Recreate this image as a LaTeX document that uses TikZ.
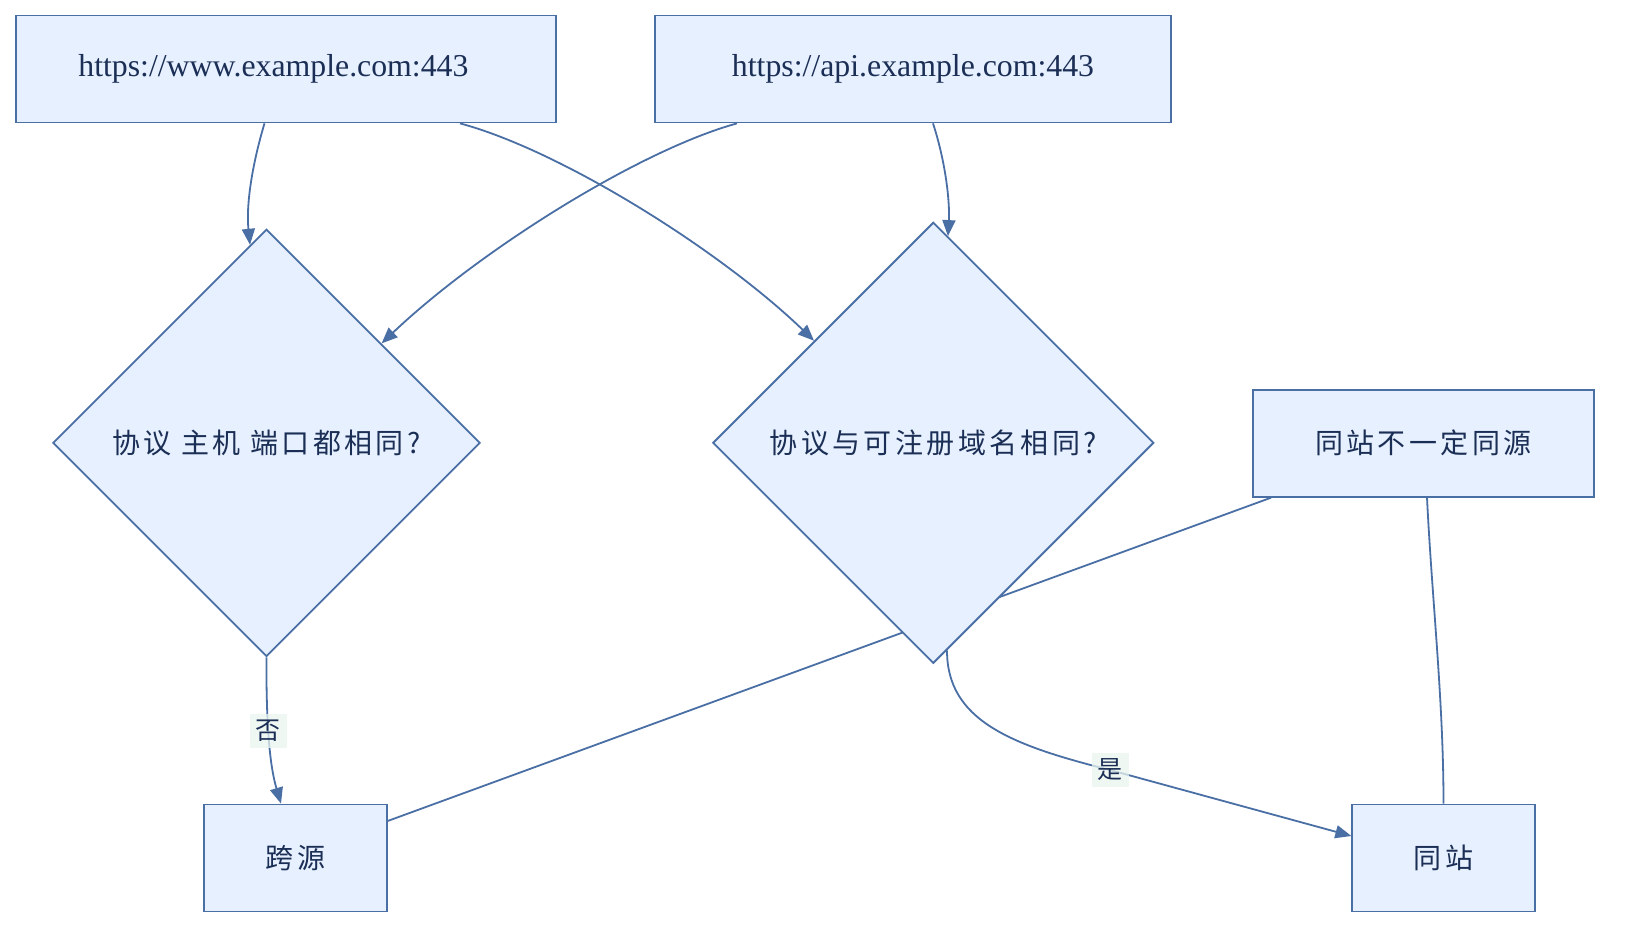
\documentclass[tikz,border=0pt]{standalone}
\usepackage{fontspec}
\setmainfont{Liberation Serif}
\newfontfamily\cjk[LetterSpace=12]{Noto Sans CJK SC}
\usetikzlibrary{shapes.geometric,arrows.meta,calc}
\definecolor{nfill}{HTML}{E6F0FE}
\definecolor{nline}{HTML}{4A6FA5}
\definecolor{ntext}{HTML}{1B2E55}
\definecolor{lblbg}{HTML}{EAF5EF}
\begin{document}
\begin{tikzpicture}[x=1pt,y=-1pt,
  box/.style={draw=nline, line width=1.8pt, fill=nfill, text=ntext, inner sep=0pt, minimum height=107pt},
  dec/.style={diamond, aspect=1, draw=nline, line width=1.8pt, fill=nfill, text=ntext, inner sep=0pt},
  latin/.style={font=\fontsize{31.8}{38}\selectfont},
  han/.style={font=\cjk\fontsize{28}{34}\selectfont},
  conn/.style={draw=nline, line width=1.8pt},
  arr/.style={conn, -{Triangle[length=16pt,width=13pt]}},
  lbl/.style={fill=lblbg, fill opacity=0.75, text opacity=1, text=ntext, font=\cjk\fontsize{25}{30}\selectfont, inner sep=6pt}]
\useasboundingbox (0,0) rectangle (1626,936);
\fill[white] (0,0) rectangle (1626,936);

\node[box, latin, minimum width=540pt] (www) at (285.8,69) {https://www.example.com:443\hspace*{24.8pt}};
\node[box, latin, minimum width=515.4pt] (api) at (913,69) {https://api.example.com:443};
\node[box, han, minimum width=341pt] (note) at (1423.3,443.3) {同站不一定同源};
\node[box, han, minimum width=182.5pt] (ky) at (295.5,858) {跨源};
\node[box, han, minimum width=182.5pt] (tz) at (1443.5,858) {同站};
\node[dec, han, minimum width=427.2pt, minimum height=427.2pt] (d1) at (266.5,442.8) {协议 主机 端口都相同?};

% line passing behind the second diamond
\draw[conn] ($(note.south)+(-152.3,0)$) -- ($(ky.east)+(0,-37)$);

\node[dec, han, minimum width=441pt, minimum height=441pt] (d2) at (933.3,442.8) {协议与可注册域名相同?};

\draw[arr] ($(www.south)+(-21.3,0)$) .. controls (252,165) and (246,205) .. ($(d1.north)+(-16.5,16.5)$);
\draw[arr] ($(www.south)+(174.2,0)$) .. controls (560,150) and (720,250) .. ($(d2.north)+(-119.3,119.3)$);
\draw[arr] ($(api.south)+(-176,0)$) .. controls (640,150) and (480,250) .. ($(d1.north)+(115.1,115.1)$);
\draw[arr] ($(api.south)+(20,0)$) .. controls (945,160) and (950,200) .. ($(d2.north)+(14.7,14.7)$);

\draw[arr] (d1.south) .. controls (266,735) and (271,770) .. node[lbl, pos=0.39] {否} ($(ky.north)+(-14.5,0)$);
\draw[arr] ($(d2.south)+(13.7,-13.7)$) .. controls (947,720) and (1010,745) .. (1110,770) node[lbl] {是} -- ($(tz.west)+(0,-22)$);
\draw[conn] ($(note.south)+(3.7,0)$) .. controls (1432,600) and (1443.5,700) .. (tz.north);
\end{tikzpicture}
\end{document}
